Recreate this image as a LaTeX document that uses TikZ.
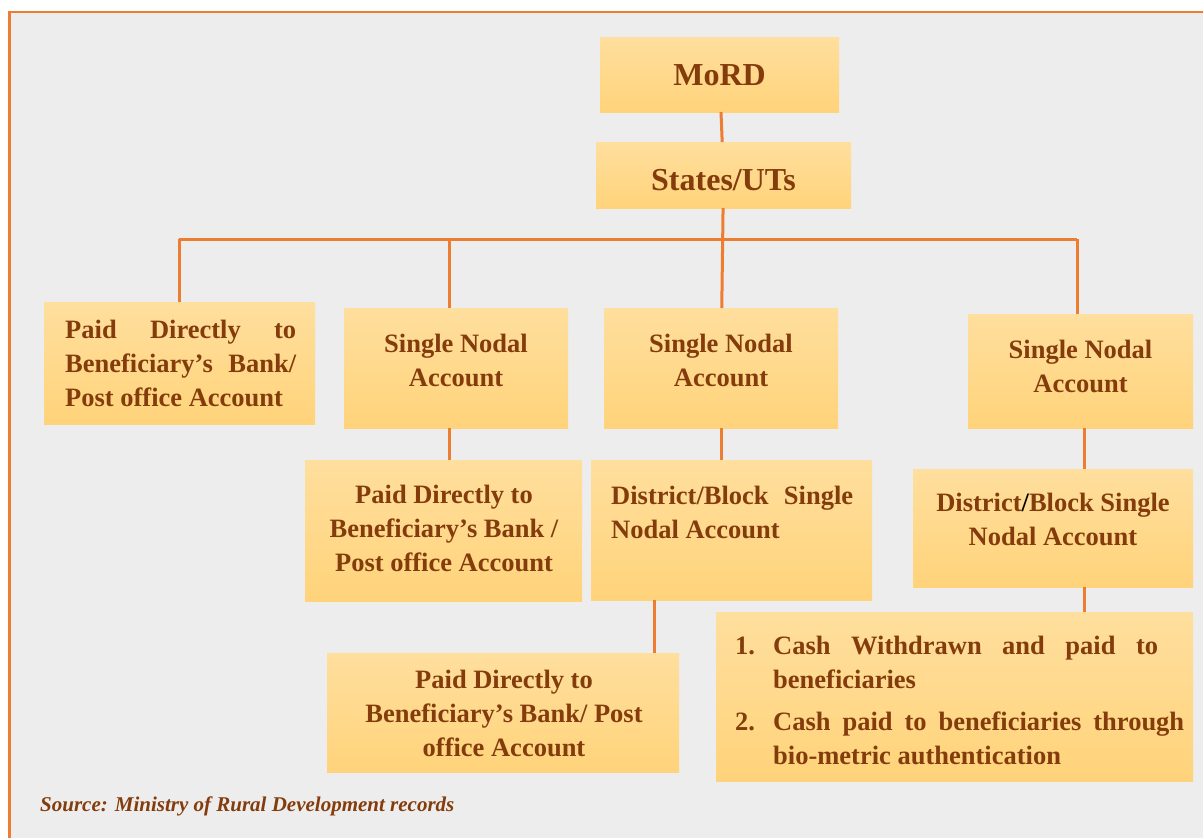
\documentclass[tikz,border=0pt]{standalone}
\usepackage{fontspec}
\setmainfont{Liberation Serif}
\definecolor{linkorange}{HTML}{ED7D31}
\definecolor{textbrown}{HTML}{843C0C}
\definecolor{boxtop}{HTML}{FFDF9E}
\definecolor{boxbot}{HTML}{FFD37A}
\definecolor{pagegrey}{HTML}{EDEDED}
\tikzset{box/.style={rectangle, inner sep=0pt, outer sep=0pt, top color=boxtop, bottom color=boxbot},
  txt/.style={text=textbrown, inner sep=0pt, font=\bfseries\fontsize{26.5}{34}\selectfont},
  big/.style={txt, font=\bfseries\fontsize{32}{38}\selectfont},
  src/.style={text=textbrown, inner sep=0pt, font=\bfseries\itshape\fontsize{21}{25}\selectfont},
  link/.style={draw=linkorange, line width=3pt}}

\begin{document}
\begin{tikzpicture}[x=1pt, y=-1pt]
  \useasboundingbox (0,0) rectangle (1203,838);
  \clip (0,0) rectangle (1203,838);
  \fill[white] (0,0) rectangle (1203,838);
%% frame
  \fill[pagegrey] (9.5,12) rectangle (1220,850);
  \draw[linkorange, line width=2.5pt] (9.5,850) -- (9.5,12) -- (1220,12);
%% top
  \node[box, minimum width=239pt, minimum height=75pt] (mord) at (719.5,74.5) {};
  \node[big, anchor=base] (mordT) at (719.5,85) {MoRD};
  \node[box, minimum width=255pt, minimum height=66pt] (states) at (723.5,175) {};
  \node[big, anchor=base] (statesT) at (723.5,190) {States/UTs};
%% second row
  \node[box, minimum width=271pt, minimum height=122pt] (payA) at (179.5,363) {};
  \node[txt, anchor=north west, align=left] (payAT) at (65,320) {\makebox[231pt][s]{Paid Directly to}\\
    \makebox[231pt][s]{Beneficiary’s Bank/}\\Post office Account};
  \node[box, minimum width=224pt, minimum height=120pt] (nodalB) at (456,368) {};
  \node[txt, anchor=north, align=center] (nodalBT) at (456,334) {Single Nodal\\Account};
  \node[box, minimum width=234pt, minimum height=120pt] (nodalC) at (721,368) {};
  \node[txt, anchor=north, align=center] (nodalCT) at (721,334) {Single Nodal\\Account};
  \node[box, minimum width=225pt, minimum height=114pt] (nodalD) at (1080.5,371) {};
  \node[txt, anchor=north, align=center] (nodalDT) at (1080.5,340) {Single Nodal\\Account};
%% third row
  \node[box, minimum width=277pt, minimum height=141pt] (payB) at (443.5,530.5) {};
  \node[txt, anchor=north, align=center] (payBT) at (444,485) {Paid Directly to\\Beneficiary’s Bank /\\Post office Account};
  \node[box, minimum width=281pt, minimum height=140pt] (distC) at (731.5,530) {};
  \node[txt, anchor=north west, align=left] (distCT) at (611,486) {\makebox[242pt][s]{District/Block Single}\\Nodal Account};
  \node[box, minimum width=280pt, minimum height=118pt] (distD) at (1053,528) {};
  \node[txt, anchor=north, align=center] (distDT) at (1053,493) {District{\color{black}/}Block Single\\Nodal Account};
%% bottom row
  \node[box, minimum width=352pt, minimum height=119pt] (payC) at (503,712.5) {};
  \node[txt, anchor=north, align=center] (payCT) at (504,670) {Paid Directly to\\Beneficiary’s Bank/ Post\\office Account};
  \node[box, minimum width=477pt, minimum height=169pt] (cashD) at (954.5,696.5) {};
  \node[txt, anchor=north west, align=left, font=\bfseries\fontsize{26.5}{33.5}\selectfont] (cashDT) at (735,636)
    {\makebox[38pt][l]{1.}\makebox[385pt][s]{Cash Withdrawn and paid to}\\
     \hspace*{38pt}beneficiaries\\[9pt]
     \makebox[38pt][l]{2.}\makebox[411pt][s]{Cash paid to beneficiaries through}\\
     \hspace*{38pt}bio-metric authentication};
%% source
  \node[src, anchor=base west] (source) at (40,811) {Source: Ministry of Rural Development records};
%% connectors
  \coordinate (busL) at (179,239);
  \coordinate (busB) at (449,239);
  \coordinate (busR) at (1077,239);
  \coordinate (jF) at (654,0);
  \coordinate (jD) at (1084.5,0);
  \draw[link] (mord) -- (states);
  \draw[link] (states) -- (nodalC);
  \draw[link] (busL) -- (busR);
  \draw[link] (busL) -- (busL |- payA.north);
  \draw[link] (busB) -- (busB |- nodalB.north);
  \draw[link] (busR) -- (busR |- nodalD.north);
  \draw[link] (nodalB.south -| busB) -- (payB.north -| busB);
  \draw[link] (nodalC.south) -- (nodalC.south |- distC.north);
  \draw[link] (distC.south -| jF) -- (payC.north -| jF);
  \draw[link] (nodalD.south -| jD) -- (distD.north -| jD);
  \draw[link] (distD.south -| jD) -- (cashD.north -| jD);
\end{tikzpicture}
\end{document}
